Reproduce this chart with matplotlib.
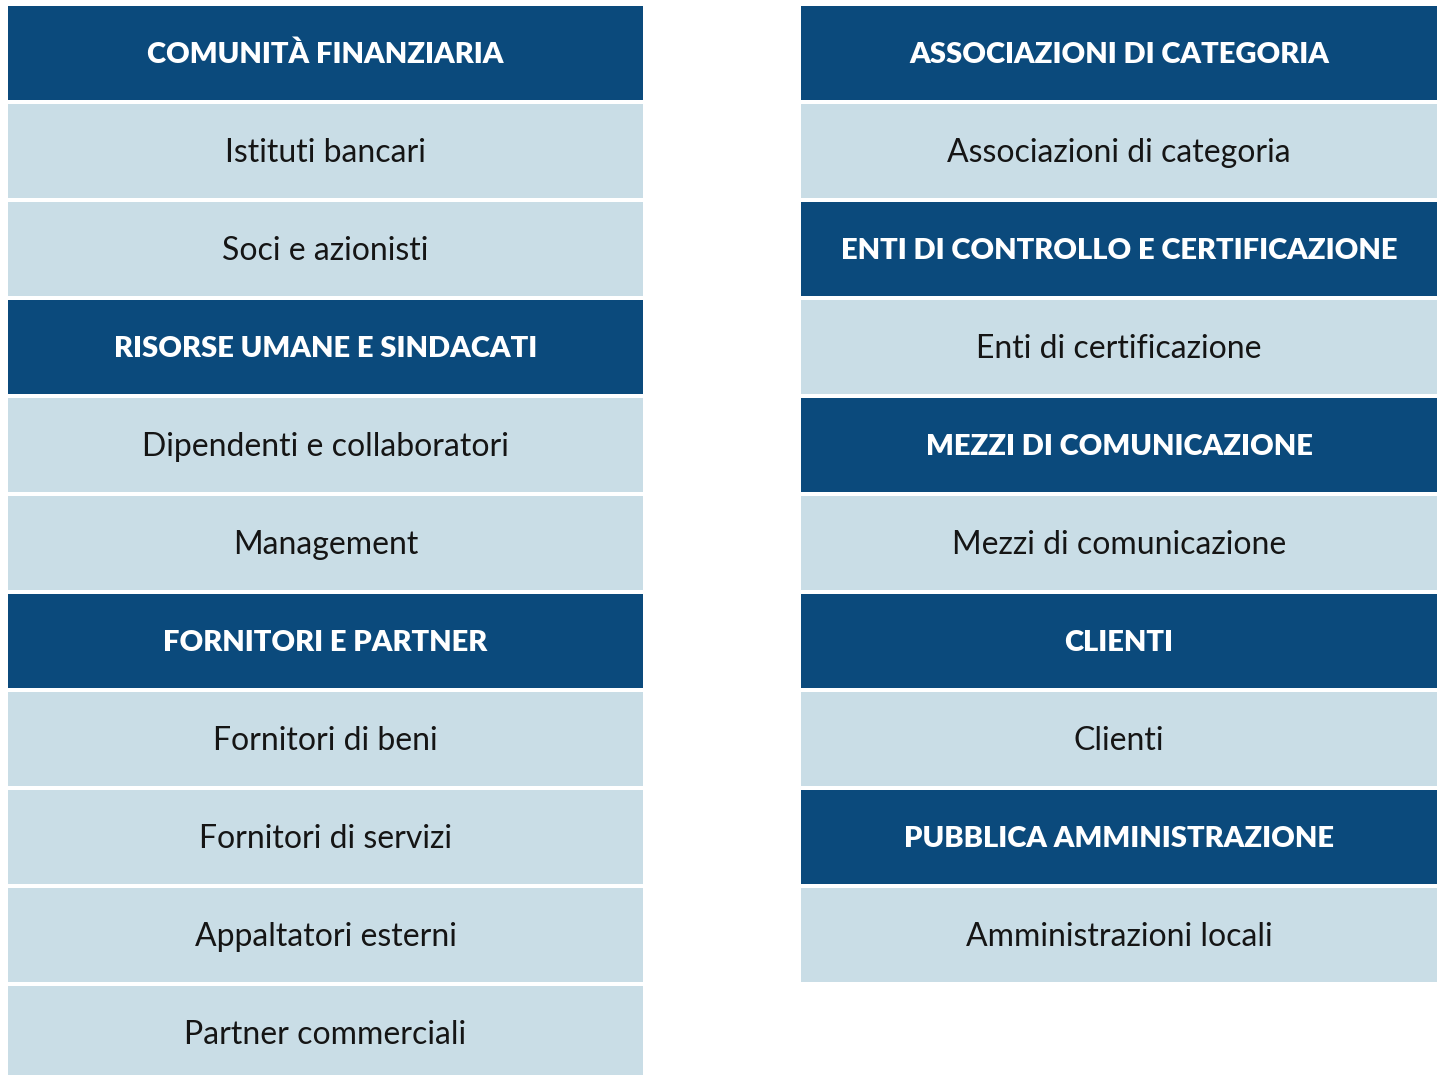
import matplotlib.pyplot as plt
from matplotlib.patches import Rectangle

# column contents: (label, is_header)
left_labels = ["COMUNITÀ FINANZIARIA", "Istituti bancari", "Soci e azionisti",
               "RISORSE UMANE E SINDACATI", "Dipendenti e collaboratori", "Management",
               "FORNITORI E PARTNER", "Fornitori di beni", "Fornitori di servizi",
               "Appaltatori esterni", "Partner commerciali"]
left_header = [1, 0, 0, 1, 0, 0, 1, 0, 0, 0, 0]

right_labels = ["ASSOCIAZIONI DI CATEGORIA", "Associazioni di categoria",
                "ENTI DI CONTROLLO E CERTIFICAZIONE", "Enti di certificazione",
                "MEZZI DI COMUNICAZIONE", "Mezzi di comunicazione",
                "CLIENTI", "Clienti",
                "PUBBLICA AMMINISTRAZIONE", "Amministrazioni locali"]
right_header = [1, 0, 1, 0, 1, 0, 1, 0, 1, 0]

W, H = 1442, 1075
DARK = "#0B4A7C"
LIGHT = "#C9DDE6"

fig = plt.figure(figsize=(W / 100, H / 100), dpi=100)
ax = fig.add_axes([0, 0, 1, 1])
ax.set_xlim(0, W)
ax.set_ylim(H, 0)
ax.axis("off")

top, pitch, cell_h = 6, 98, 94


def draw_column(x0, x1, labels, header):
    for i, (lab, hd) in enumerate(zip(labels, header)):
        y = top + i * pitch
        ax.add_patch(Rectangle((x0, y), x1 - x0, cell_h,
                               facecolor=DARK if hd else LIGHT, edgecolor="none"))
        ax.text((x0 + x1) / 2, y + cell_h / 2 + 2, lab, ha="center", va="center",
                family="Lato", fontsize=21 if hd else 23,
                fontweight="heavy" if hd else "normal",
                color="white" if hd else "#151515")


draw_column(8, 643, left_labels, left_header)
draw_column(801, 1437, right_labels, right_header)

fig.savefig("out.png", dpi=100, facecolor="white")
